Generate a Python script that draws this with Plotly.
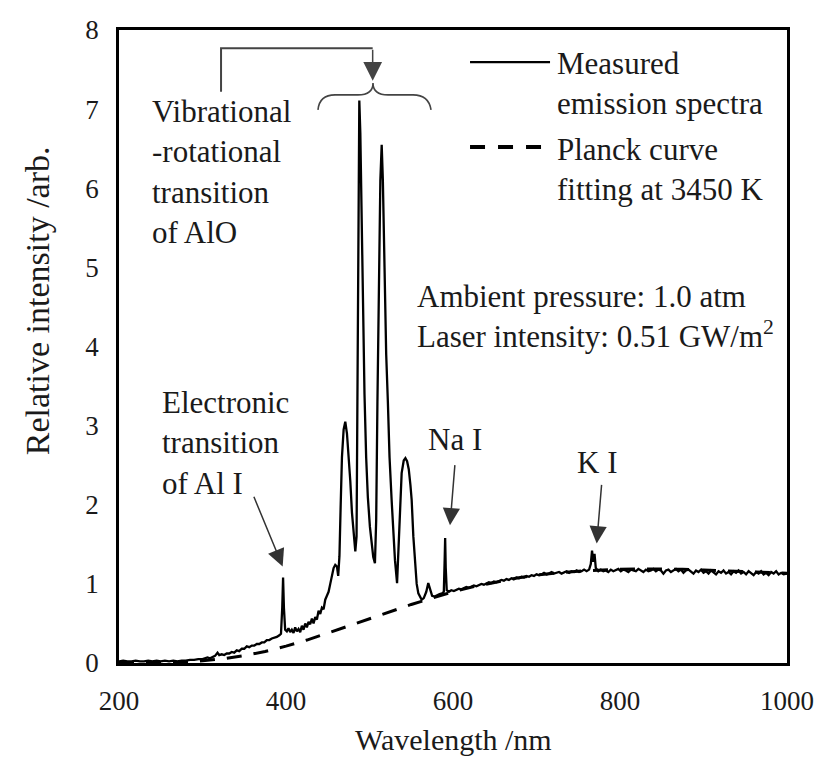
import plotly.graph_objects as go

# ---------------- data ----------------
wl_measured = [
    200, 205, 210, 215, 220, 225, 230, 235, 240, 245, 250, 255, 260, 265, 270, 275, 280, 285, 290, 295,
    300, 303, 306, 309, 312, 315, 318, 320, 323, 326, 329, 332, 335, 338, 341, 344, 347, 350, 353, 356,
    359, 362, 365, 368, 371, 374, 377, 380, 383, 386, 389, 392, 394, 395.5, 396.5, 397.5, 399, 401, 403, 405,
    407, 409, 411, 413, 415, 417, 419, 421, 423, 425, 427, 429, 431, 433, 435, 437, 439, 441, 443, 445,
    447, 449, 451, 453, 455, 457, 459, 461, 462.5, 464, 465.5, 467, 469, 471, 473, 475, 477, 479, 481, 483,
    484.5, 485.5, 486.5, 487.8, 489, 490.5, 492, 494, 496, 498, 500.5, 502.5, 504.5, 506.5, 508, 509.5, 511, 513, 514.6, 516,
    518, 520, 522, 524, 526.5, 528.5, 530.5, 533, 535, 536.5, 538.5, 541, 543, 545, 547, 549, 550.5, 552.5, 554.5, 556.5,
    558.5, 562.5, 565, 568, 570.4, 572.5, 575, 578, 581, 584, 587, 589, 590, 590.6, 591.3, 592.5, 595, 598, 601, 604,
    607, 610, 613, 616, 619, 622, 625, 628, 631, 634, 637, 640, 643, 646, 649, 652, 655, 658, 661, 664,
    667, 670, 673, 676, 679, 682, 685, 688, 691, 694, 697, 700, 703, 706, 709, 712, 715, 718, 721, 724,
    727, 730, 733, 736, 739, 742, 745, 748, 751, 754, 757, 760, 763, 765, 766.5, 768, 769.5, 771, 774, 777,
    780, 783, 786, 789, 792, 795, 798, 801, 804, 807, 810, 813, 816, 819, 822, 825, 828, 831, 834, 837,
    840, 843, 846, 849, 852, 855, 858, 861, 864, 867, 870, 873, 876, 879, 882, 885, 888, 891, 894, 897,
    900, 903, 906, 909, 912, 915, 918, 921, 924, 927, 930, 933, 936, 939, 942, 945, 948, 951, 954, 957,
    960, 963, 966, 969, 972, 975, 978, 981, 984, 987, 990, 993, 996, 1000,
]
intensity_measured = [
    0.02, 0.03, 0.02, 0.02, 0.03, 0.02, 0.02, 0.03, 0.02, 0.03, 0.02, 0.03, 0.02, 0.03, 0.02, 0.03, 0.03, 0.04, 0.04, 0.05,
    0.05, 0.06, 0.07, 0.06, 0.08, 0.09, 0.13, 0.10, 0.11, 0.10, 0.12, 0.12, 0.14, 0.13, 0.16, 0.15, 0.18, 0.18, 0.21, 0.20,
    0.22, 0.22, 0.24, 0.24, 0.26, 0.26, 0.29, 0.29, 0.31, 0.32, 0.33, 0.35, 0.37, 0.70, 1.08, 0.70, 0.42, 0.40, 0.44, 0.39,
    0.42, 0.38, 0.45, 0.40, 0.43, 0.39, 0.47, 0.42, 0.50, 0.45, 0.52, 0.49, 0.56, 0.50, 0.58, 0.55, 0.66, 0.62, 0.70, 0.68,
    0.80, 0.85, 0.90, 1.00, 1.10, 1.20, 1.24, 1.22, 1.10, 1.35, 2.00, 2.60, 2.95, 3.05, 2.90, 2.65, 2.30, 1.90, 1.60, 1.41,
    1.60, 3.30, 5.50, 7.11, 6.70, 5.60, 4.60, 3.40, 2.60, 2.10, 1.72, 1.50, 1.34, 1.26, 1.80, 3.30, 4.90, 6.10, 6.55, 6.10,
    5.00, 3.90, 3.30, 2.60, 2.06, 1.60, 1.30, 1.01, 1.50, 2.06, 2.40, 2.56, 2.59, 2.55, 2.45, 2.25, 2.06, 1.60, 1.22, 1.00,
    0.88, 0.80, 0.82, 0.90, 1.01, 0.92, 0.85, 0.84, 0.86, 0.87, 0.88, 0.90, 1.30, 1.58, 1.20, 0.92, 0.90, 0.92, 0.91, 0.93,
    0.94, 0.93, 0.95, 0.96, 0.95, 0.97, 0.98, 0.97, 0.99, 1.00, 0.99, 1.01, 1.02, 1.01, 1.03, 1.02, 1.04, 1.05, 1.04, 1.06,
    1.05, 1.07, 1.06, 1.08, 1.07, 1.09, 1.08, 1.10, 1.09, 1.11, 1.10, 1.12, 1.11, 1.12, 1.14, 1.12, 1.13, 1.15, 1.13, 1.14,
    1.15, 1.13, 1.15, 1.16, 1.14, 1.16, 1.15, 1.17, 1.15, 1.16, 1.18, 1.16, 1.18, 1.25, 1.42, 1.28, 1.38, 1.20, 1.16, 1.18,
    1.16, 1.17, 1.15, 1.18, 1.16, 1.17, 1.19, 1.16, 1.18, 1.17, 1.15, 1.18, 1.17, 1.16, 1.19, 1.17, 1.15, 1.18, 1.16, 1.17,
    1.19, 1.16, 1.18, 1.17, 1.13, 1.17, 1.18, 1.15, 1.17, 1.19, 1.16, 1.18, 1.14, 1.17, 1.18, 1.15, 1.13, 1.17, 1.15, 1.18,
    1.14, 1.16, 1.13, 1.17, 1.15, 1.12, 1.16, 1.14, 1.17, 1.13, 1.15, 1.12, 1.16, 1.14, 1.17, 1.13, 1.15, 1.12, 1.16, 1.14,
    1.11, 1.15, 1.13, 1.16, 1.12, 1.14, 1.11, 1.15, 1.13, 1.16, 1.12, 1.14, 1.12, 1.13,
]

wl_planck = [200, 225, 250, 275, 300, 325, 350, 375, 400, 425, 450, 475, 500, 525, 550, 575, 600,
             625, 650, 675, 700, 725, 750, 775, 800, 825, 850, 875, 900, 925, 950, 975, 1000]
intensity_planck = [0.000, 0.001, 0.004, 0.012, 0.028, 0.055, 0.094, 0.145, 0.213, 0.290, 0.378, 0.470,
                    0.563, 0.654, 0.740, 0.820, 0.900, 0.965, 1.020, 1.070, 1.110, 1.140, 1.160, 1.175,
                    1.185, 1.190, 1.190, 1.185, 1.175, 1.165, 1.155, 1.145, 1.135]

x_ticks = [200, 400, 600, 800, 1000]
y_ticks = [0, 1, 2, 3, 4, 5, 6, 7, 8]

series_names = ["Measured emission spectra", "Planck curve fitting at 3450 K"]

FONT = "Liberation Serif"
TXT = "#1a1a1a"

fig = go.Figure()
fig.add_trace(go.Scatter(x=wl_planck, y=intensity_planck, mode="lines", name=series_names[1],
                         line=dict(color="black", width=3, dash="15px,12px")))
fig.add_trace(go.Scatter(x=wl_measured, y=intensity_measured, mode="lines", name=series_names[0],
                         line=dict(color="black", width=2.3)))

axis_common = dict(showline=True, linecolor="black", linewidth=2.5, mirror=True,
                   showgrid=False, zeroline=False, ticks="",
                   tickfont=dict(family=FONT, size=27, color=TXT))

fig.update_xaxes(range=[200, 1000], tickvals=x_ticks, ticklabelstandoff=12, **axis_common)
fig.update_yaxes(range=[0, 8], tickvals=y_ticks, ticklabelstandoff=12, **axis_common)

shapes = [
    # bracket above the AlO bands
    dict(type="path", xref="x", yref="y", path="M 322.2,7.22 L 322.2,7.77 L 503.8,7.77",
         line=dict(color="#444", width=2)),
    # curly brace
    dict(type="path", xref="x", yref="y",
         path="M 438.3,6.99 Q 440,7.18 458.7,7.18 L 486.2,7.18 Q 504.2,7.18 504.2,7.33 "
              "Q 504.2,7.18 522.2,7.18 L 552.1,7.18 Q 571,7.18 573.7,6.99",
         line=dict(color="#444", width=1.6)),
    # legend samples
    dict(type="line", xref="x", yref="y", x0=620.4, x1=716.2, y0=7.595, y1=7.595,
         line=dict(color="black", width=2.3)),
    dict(type="line", xref="x", yref="y", x0=620.4, x1=716.2, y0=6.52, y1=6.52,
         line=dict(color="black", width=4, dash="15px,13px")),
]
fig.update_layout(shapes=shapes)

anns = []
def txt(x, y, text, xanchor="left", size=31, align="left"):
    anns.append(dict(x=x, y=y, xref="x", yref="y", text=text, showarrow=False,
                     xanchor=xanchor, yanchor="middle", align=align, textangle=0.01,
                     font=dict(family=FONT, size=size, color=TXT)))

def arrow(xt, yt, xs, ys, size=2.3, color="#333"):
    anns.append(dict(x=xt, y=yt, ax=xs, ay=ys, xref="x", yref="y", axref="x", ayref="y",
                     text="", showarrow=True, arrowhead=2, arrowsize=size, arrowwidth=1.5,
                     arrowcolor=color))

txt(722.2, 7.32, "Measured<br>emission spectra")
txt(722.2, 6.24, "Planck curve<br>fitting at 3450 K")
txt(237.1, 6.21, "Vibrational<br>-rotational<br>transition<br>of AlO")
txt(554.5, 4.385, "Ambient pressure: 1.0 atm<br>Laser intensity: 0.51 GW/m<sup>2</sup>")
txt(249.1, 2.78, "Electronic<br>transition<br>of Al I")
txt(602.4, 2.82, "Na I", xanchor="center")
txt(773.0, 2.54, "K I", xanchor="center")

arrow(396.0, 1.22, 360.8, 2.12)
arrow(596.4, 1.74, 602.4, 2.52)
arrow(772.1, 1.51, 778.1, 2.27)
arrow(503.8, 7.36, 503.8, 7.77, size=2.5, color="#444")

# axis titles
anns.append(dict(x=0.5, y=-0.1216, xref="paper", yref="paper", text="Wavelength /nm",
                 showarrow=False, xanchor="center", yanchor="middle", textangle=0.01,
                 font=dict(family=FONT, size=30, color=TXT)))
anns.append(dict(x=-0.1228, y=0.573, xref="paper", yref="paper",
                 text="Relative intensity /arb.",
                 showarrow=False, xanchor="center", yanchor="middle", textangle=-90,
                 font=dict(family=FONT, size=34, color=TXT)))

fig.update_layout(
    template="none",
    annotations=anns,
    width=819, height=758,
    margin=dict(l=119, r=32, t=30, b=95),
    paper_bgcolor="white", plot_bgcolor="white",
    showlegend=False,
    font=dict(family=FONT, color=TXT, size=27),
)

fig.write_html("out.html")
